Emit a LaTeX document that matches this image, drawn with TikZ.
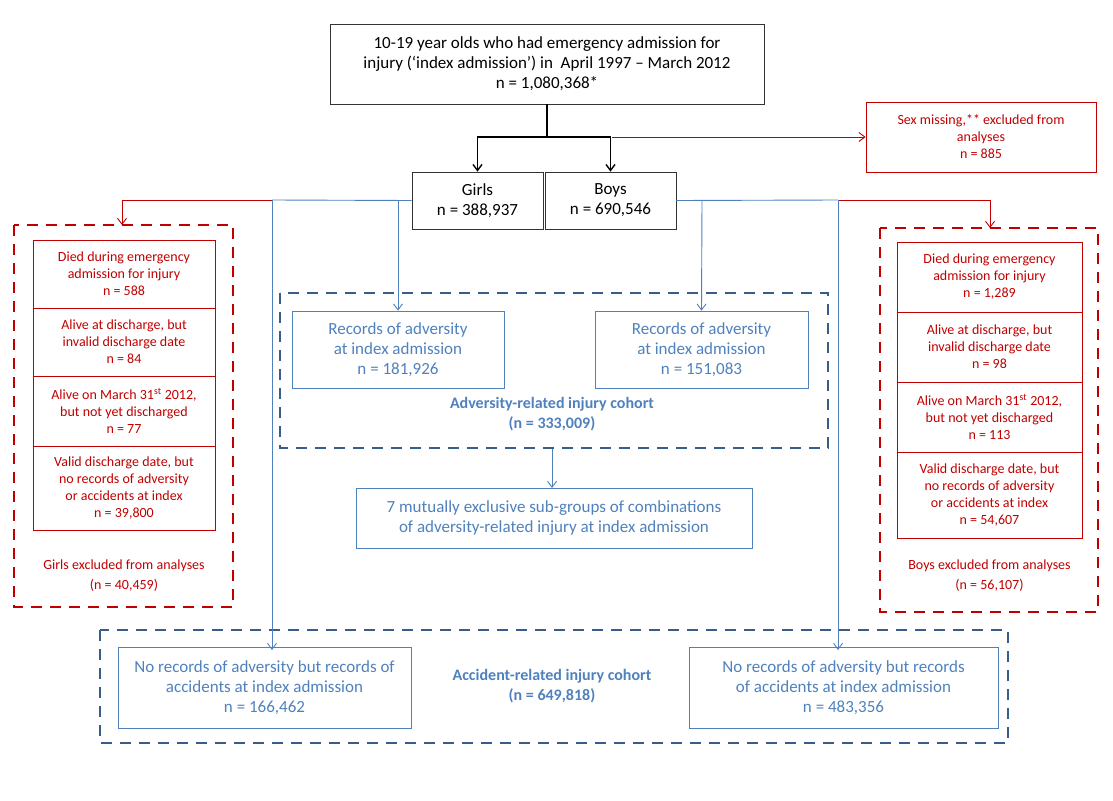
\documentclass[tikz,border=0pt]{standalone}
\usepackage{fontspec}
\setmainfont{Carlito}
\usetikzlibrary{arrows.meta}
\definecolor{rd}{RGB}{192,0,0}
\definecolor{bl}{RGB}{79,129,189}
\definecolor{dbl}{RGB}{56,93,138}
\begin{document}
\begin{tikzpicture}[x=1pt,y=-1pt,
 bx/.style={draw=black!80,line width=0.8pt,fill=white,align=center,font=\fontsize{17}{20}\selectfont,inner sep=0pt},
 rb/.style={draw=rd,line width=0.7pt,align=center,text=rd,font=\fontsize{14}{17}\selectfont,inner sep=0pt},
 bb/.style={draw=bl,line width=0.7pt,align=center,text=bl,font=\fontsize{17}{20}\selectfont,inner sep=0pt},
 rdash/.style={draw=rd,line width=2.8pt,dash pattern=on 11pt off 8pt},
 bdash/.style={draw=dbl,line width=2.8pt,dash pattern=on 11pt off 8pt},
 ka/.style={line width=1.4pt,-{Straight Barb[length=6pt,width=9pt]}},
 ra/.style={draw=rd,line width=0.9pt,-{Straight Barb[length=6pt,width=9pt]}},
 ba/.style={draw=bl,line width=0.9pt,-{Straight Barb[length=6pt,width=9pt]}},
 lab/.style={align=center,font=\fontsize{16}{20}\selectfont\bfseries,text=bl}]
\useasboundingbox (0,0) rectangle (1113,800);
% top
\node[bx,minimum width=434,minimum height=80] (top) at (547,64) {10-19 year olds who had emergency admission for\\injury (‘index admission’) in\ \ April 1997 -- March 2012\\n = 1,080,368*};
\node[bx,minimum width=131,minimum height=57] (girls) at (477.5,200.5) {Girls\\n = 388,937};
\node[bx,minimum width=131,minimum height=57] (boys) at (610.5,200.5) {Boys\\n = 690,546};
\node[rb,minimum width=230,minimum height=70] (sex) at (981,137) {Sex missing,** excluded from\\analyses\\n = 885};
\coordinate (j) at (547,137);
\draw[line width=1.4pt] (top.south) -- (j);
\draw[ka] (j) -| (girls.north);
\draw[ka] (j) -| (boys.north);
\draw[ra] (612,137) -- (sex.west);
% dashed boxes
\draw[rdash] (14,225) rectangle (233,607);
\draw[rdash] (880,228) rectangle (1098,612);
\draw[bdash] (280,293) rectangle (828,448);
\draw[bdash] (100,630) rectangle (1008,743);
% left red
\node[rb,minimum width=182,minimum height=68] (l1) at (124,274) {Died during emergency\\admission for injury\\n = 588};
\node[rb,minimum width=182,minimum height=68] (l2) at (124,342) {Alive at discharge, but\\invalid discharge date\\n = 84};
\node[rb,minimum width=182,minimum height=70] (l3) at (124,411) {Alive on March 31\textsuperscript{st} 2012,\\but not yet discharged\\n = 77};
\node[rb,minimum width=182,minimum height=84] (l4) at (124,488) {Valid discharge date, but\\no records of adversity\\or accidents at index\\n = 39,800};
\node[align=center,text=rd,font=\fontsize{14}{20}\selectfont] (lg) at (124,576) {Girls excluded from analyses\\(n = 40,459)};
% right red
\node[rb,minimum width=185,minimum height=70] (r1) at (989.5,277) {Died during emergency\\admission for injury\\n = 1,289};
\node[rb,minimum width=185,minimum height=70] (r2) at (989.5,347) {Alive at discharge, but\\invalid discharge date\\n = 98};
\node[rb,minimum width=185,minimum height=70] (r3) at (989.5,417) {Alive on March 31\textsuperscript{st} 2012,\\but not yet discharged\\n = 113};
\node[rb,minimum width=185,minimum height=86] (r4) at (989.5,495) {Valid discharge date, but\\no records of adversity\\or accidents at index\\n = 54,607};
\node[align=center,text=rd,font=\fontsize{14}{20}\selectfont] (rg) at (989.5,576) {Boys excluded from analyses\\(n = 56,107)};
% blue boxes
\node[bb,minimum width=212,minimum height=77] (ga) at (398,349.5) {Records of adversity\\at index admission\\n = 181,926};
\node[bb,minimum width=213,minimum height=77] (ba) at (701.5,349.5) {Records of adversity\\at index admission\\n = 151,083};
\node[lab] (adv) at (552,414) {Adversity-related injury cohort\\(n = 333,009)};
\node[bb,minimum width=396,minimum height=60] (sub) at (554,518) {7 mutually exclusive sub-groups of combinations\\of adversity-related injury at index admission};
\node[bb,minimum width=293,minimum height=81] (gc) at (264.5,687.5) {No records of adversity but records of\\accidents at index admission\\n = 166,462};
\node[bb,minimum width=309,minimum height=81] (bc) at (843.5,687.5) {No records of adversity but records\\of accidents at index admission\\n = 483,356};
\node[lab] (acc) at (552,686) {Accident-related injury cohort\\(n = 649,818)};
% connectors
\coordinate (gl) at (272,200); \coordinate (gr) at (838,200);
\draw[draw=bl,line width=0.9pt] (girls.west) -- (gl);
\draw[draw=rd,line width=0.9pt] (gl) -- (122,200);
\draw[ra] (122,200) -- (122,225);
\draw[draw=bl,line width=0.9pt] (boys.east) -- (gr);
\draw[draw=rd,line width=0.9pt] (gr) -- (990,200);
\draw[ra] (990,200) -- (990,228);
\draw[ba] (398,200) -- (ga.north);
\draw[ba] (702,200) -- (ba.north);
\draw[ba] (gl) -- (272,650);
\draw[ba] (gr) -- (838,650);
\draw[ba] (552,449) -- (552,488);
\end{tikzpicture}
\end{document}
